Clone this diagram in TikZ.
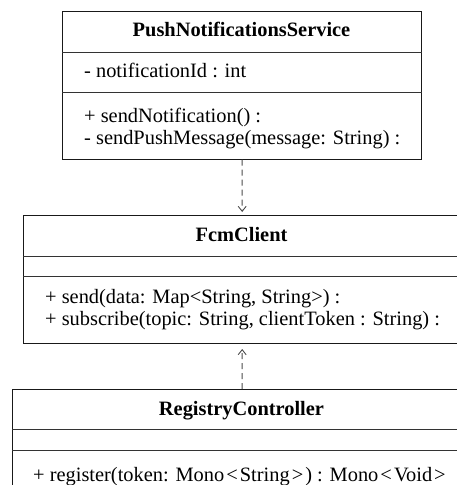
\documentclass[tikz,border=0pt]{standalone}
\usepackage{fontspec}
\setmainfont{Liberation Serif}
\usetikzlibrary{arrows.meta}
\begin{document}
\begin{tikzpicture}[x=1pt,y=1pt,
  umlbox/.style={draw=black!90, line width=1pt, rectangle, inner sep=0pt, anchor=north west},
  divider/.style={draw=black!80, line width=1pt},
  ttl/.style={font=\fontsize{20.4}{22}\selectfont\bfseries, inner sep=0pt, anchor=base},
  member/.style={font=\fontsize{20.4}{22}\selectfont, inner sep=0pt, anchor=base west},
  dep/.style={draw=black!70, line width=1pt, dash pattern=on 6pt off 4pt,
    -{Straight Barb[length=5pt,width=8pt,line width=0.9pt]}}
]
\useasboundingbox (0,0) rectangle (457,-485);
\clip (0,0) rectangle (457,-485);
\fill[white] (0,0) rectangle (457,-485);

% PushNotificationsService
\node[umlbox, minimum width=359pt, minimum height=148pt] (push) at (62,-10.5) {};
\draw[divider] (push.west |- 0,-52) -- (push.east |- 0,-52);
\draw[divider] (push.west |- 0,-92) -- (push.east |- 0,-92);
\node[ttl] (pushT) at (241.5,-36.5) {PushNotificationsService};
\node[member] (pushA1) at (84,-77.5) {- notificationId : int};
\node[member] (pushM1) at (84,-122.5) {+ sendNotification() :};
\node[member] (pushM2) at (84,-144.5) {- sendPushMessage(message: String) :};

% FcmClient
\node[umlbox, minimum width=437.4pt, minimum height=127.5pt] (fcm) at (23,-215) {};
\draw[divider] (fcm.west |- 0,-256) -- (fcm.east |- 0,-256);
\draw[divider] (fcm.west |- 0,-276.5) -- (fcm.east |- 0,-276.5);
\node[ttl] (fcmT) at (241.5,-241.5) {FcmClient};
\node[member] (fcmM1) at (45,-303.5) {+ send(data: Map\textless String, String\textgreater) :};
\node[member] (fcmM2) at (45,-325.5) {+ subscribe(topic: String, clientToken : String) :};

% RegistryController
\node[umlbox, minimum width=459pt, minimum height=105pt] (reg) at (12,-389) {};
\draw[divider] (reg.west |- 0,-429.5) -- (reg.east |- 0,-429.5);
\draw[divider] (reg.west |- 0,-450) -- (reg.east |- 0,-450);
\node[ttl] (regT) at (241.5,-415) {RegistryController};
\node[member] (regM1) at (33,-481) {+ register(token: Mono\hspace{0.1em}\textless\hspace{0.1em}String\hspace{0.1em}\textgreater\hspace{0.1em}) : Mono\hspace{0.1em}\textless\hspace{0.1em}Void\hspace{0.1em}\textgreater};

% dependencies
\draw[dep, shorten >=3pt] (push.south) -- (fcm.north);
\draw[dep, shorten >=5.5pt] (reg.north) -- (fcm.south);
\end{tikzpicture}
\end{document}
